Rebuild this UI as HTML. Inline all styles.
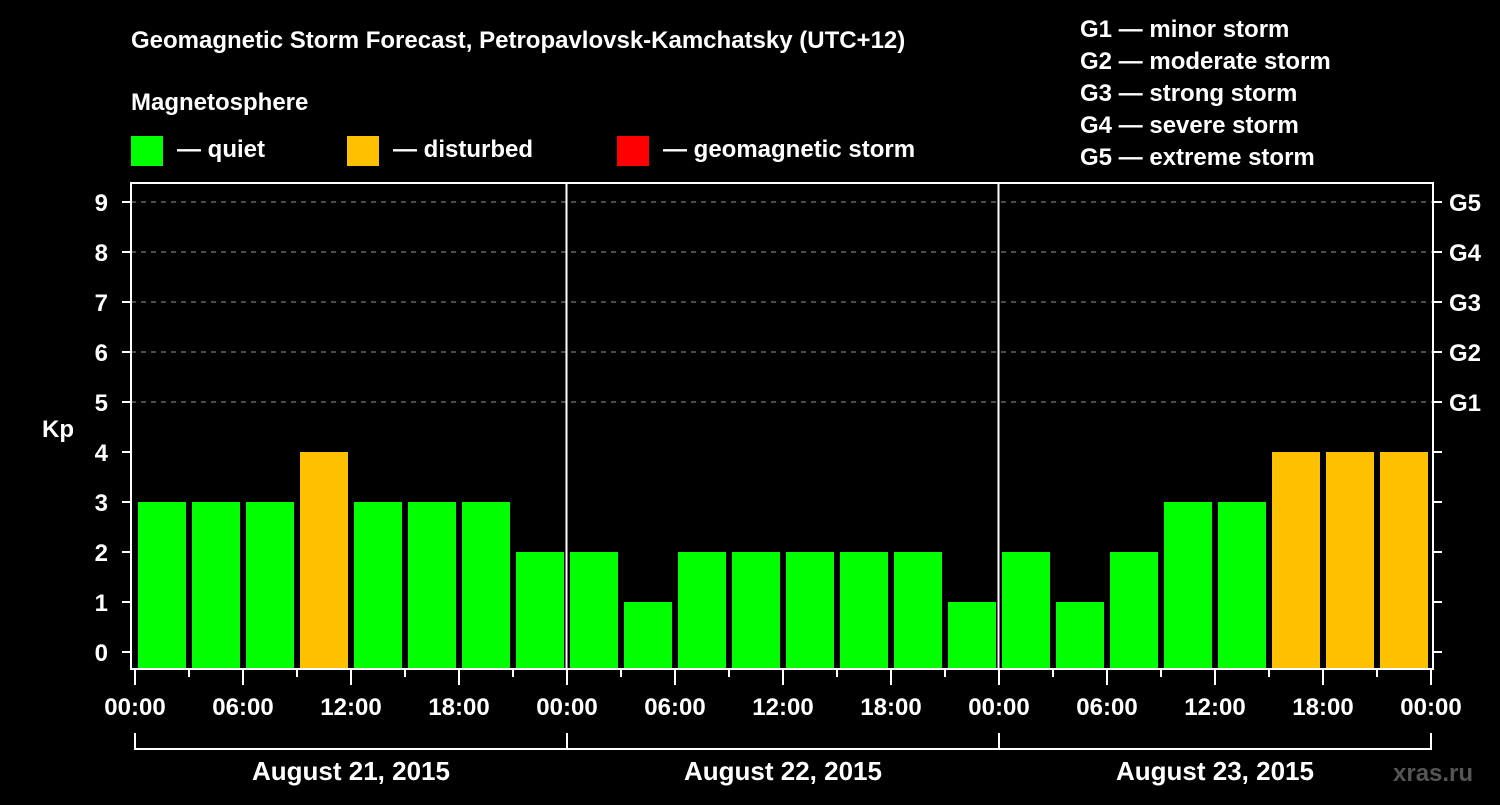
<!DOCTYPE html>
<html><head><meta charset="utf-8"><style>
body{margin:0;background:#000;}
svg text{font-family:"Liberation Sans",Arial,sans-serif;font-weight:bold;fill:#fff;}
</style></head><body>
<svg id="c" width="1500" height="800" xmlns="http://www.w3.org/2000/svg">
<rect width="1500" height="800" fill="#000"/>
<text x="131" y="48" font-size="24">Geomagnetic Storm Forecast, Petropavlovsk-Kamchatsky (UTC+12)</text>
<text x="131" y="110" font-size="24">Magnetosphere</text>
<g><rect x="131" y="136" width="32" height="30" fill="#00ff00"/><text x="177" y="157" font-size="24">— quiet</text></g>
<g><rect x="347" y="136" width="32" height="30" fill="#ffc000"/><text x="393" y="157" font-size="24">— disturbed</text></g>
<g><rect x="617" y="136" width="32" height="30" fill="#ff0000"/><text x="663" y="157" font-size="24">— geomagnetic storm</text></g>
<g font-size="24">
<text x="1080" y="37">G1 — minor storm</text>
<text x="1080" y="69">G2 — moderate storm</text>
<text x="1080" y="101">G3 — strong storm</text>
<text x="1080" y="133">G4 — severe storm</text>
<text x="1080" y="165">G5 — extreme storm</text>
</g>
<text x="42" y="437" font-size="24">Kp</text>
<text x="1393" y="781" font-size="24" style="fill:#555">xras.ru</text>
<g id="grid"></g><g id="bars"></g><g id="axes"></g>
</svg>
<script>
const days = ["August 21, 2015","August 22, 2015","August 23, 2015"];
const kpValues = [3,3,3,4,3,3,3,2, 2,1,2,2,2,2,2,1, 2,1,2,3,3,4,4,4];
const yTicks = [0,1,2,3,4,5,6,7,8,9];
const gLabels = ["G1","G2","G3","G4","G5"];
const gLevels = [5,6,7,8,9];
const xTickLabels = ["00:00","06:00","12:00","18:00"];

const NS="http://www.w3.org/2000/svg";
const L=131,R=1433,T=183,B=669,X0=135,SLOT=54;
const y=v=>652-v*50;
const x=i=>X0+i*SLOT;
function mk(tag,attrs,parent,txt){const e=document.createElementNS(NS,tag);for(const k in attrs)e.setAttribute(k,attrs[k]);if(txt!==undefined)e.textContent=txt;parent.appendChild(e);return e;}
const grid=document.getElementById('grid'),bars=document.getElementById('bars'),axes=document.getElementById('axes');
gLevels.forEach((g,i)=>{
  const ln=mk('line',{x1:L,x2:R,y1:y(g),y2:y(g),stroke:'#999','stroke-width':1,'stroke-dasharray':'5,5'},grid);
  
  
  const t=mk('text',{x:1449,y:y(g)+9,'font-size':24},axes,gLabels[i]);
  
  
});
kpValues.forEach((v,i)=>{
  const col=v>=5?'#ff0000':(v>=4?'#ffc000':'#00ff00');
  const r=mk('rect',{x:x(i)+3,y:y(v),width:48,height:B-1-y(v),fill:col},bars);
  
  
});
for(let d=1;d<days.length;d++){
  const s=mk('line',{x1:x(d*8)-0.5,x2:x(d*8)-0.5,y1:T,y2:B,stroke:'#fff','stroke-width':2},axes);
  
  
}
const box=mk('rect',{x:L,y:T,width:R-L,height:B-T,fill:'none',stroke:'#fff','stroke-width':2},axes);


yTicks.forEach(v=>{
  mk('line',{x1:122,x2:L,y1:y(v),y2:y(v),stroke:'#fff','stroke-width':2},axes);
  mk('line',{x1:R,x2:1442,y1:y(v),y2:y(v),stroke:'#fff','stroke-width':2},axes);
  const t=mk('text',{x:108,y:y(v)+9,'font-size':24,'text-anchor':'end'},axes,v);
  
  
});
for(let i=0;i<=kpValues.length;i++){
  const major=i%2===0;
  mk('line',{x1:x(i),x2:x(i),y1:B,y2:major?685:677,stroke:'#fff','stroke-width':2},axes);
  if(major){
    const lab=(i===kpValues.length)?xTickLabels[0]:xTickLabels[(i/2)%4];
    const t=mk('text',{x:x(i),y:715,'font-size':24,'text-anchor':'middle'},axes,lab);
    
    
  }
}
days.forEach((d,k)=>{
  const a=x(k*8),b=x(k*8+8);
  mk('path',{d:`M${a},733V749H${b}`+(k===days.length-1?`V733`:''),stroke:'#fff','stroke-width':2,fill:'none'},axes);
  const t=mk('text',{x:(a+b)/2,y:780,'font-size':26,'text-anchor':'middle'},axes,d);
  
  
});
mk('line',{x1:x(8),x2:x(8),y1:733,y2:749,stroke:'#fff','stroke-width':2},axes);
mk('line',{x1:x(16),x2:x(16),y1:733,y2:749,stroke:'#fff','stroke-width':2},axes);
</script>
</body></html>
